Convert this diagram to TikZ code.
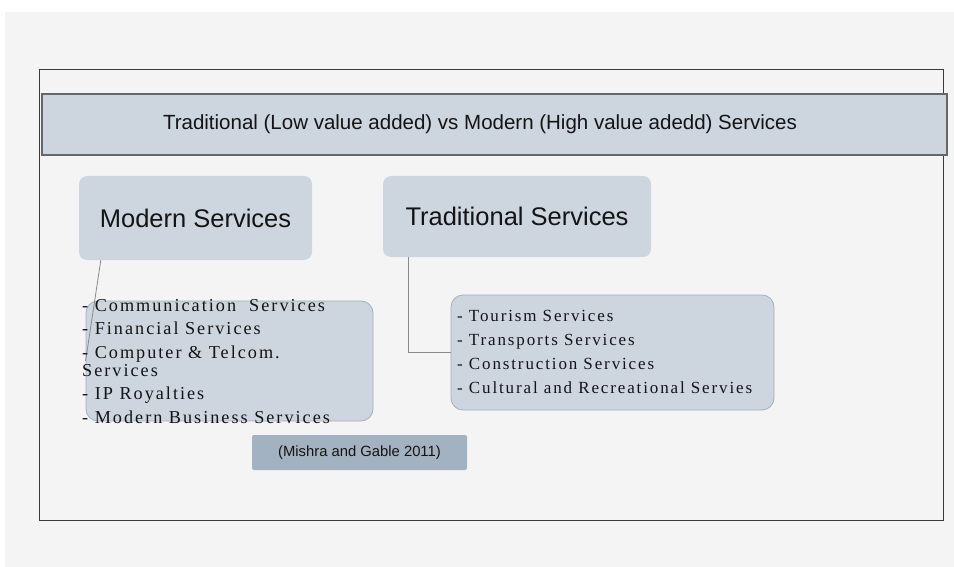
\documentclass[tikz,border=0pt]{standalone}
\usepackage{fontspec}
\setmainfont{Liberation Serif}
\setsansfont{Liberation Sans}
\newfontfamily\listfont[LetterSpace=11]{Liberation Serif}
\usetikzlibrary{positioning}
\definecolor{SlideGround}{HTML}{F4F4F4}
\definecolor{SlideFrame}{HTML}{3A3A3A}
\definecolor{BannerEdge}{HTML}{666666}
\definecolor{BoxFill}{HTML}{CDD5DE}
\definecolor{BoxEdge}{HTML}{A2B0BF}
\definecolor{NoteFill}{HTML}{A3B2C1}
\definecolor{LinkGray}{HTML}{8A8A8A}
\definecolor{SlideInk}{HTML}{141414}
\tikzset{
  every node/.style={text=SlideInk},
  banner/.style={draw=BannerEdge, line width=1.2pt, fill=BoxFill, minimum width=905pt, minimum height=61pt},
  heading/.style={fill=BoxFill, rounded corners=8pt, font=\sffamily\fontsize{25.5}{30}\selectfont},
  listbox/.style={draw=BoxEdge, fill=BoxFill, rounded corners=12pt, line width=0.8pt},
  listtext/.style={align=left, inner sep=0pt, anchor=north west},
  note/.style={fill=NoteFill, rounded corners=2pt, minimum width=215pt, minimum height=35pt, font=\sffamily\fontsize{14.8}{17}\selectfont},
  link/.style={draw=LinkGray, line width=0.8pt},
}

\begin{document}
\begin{tikzpicture}[x=1pt,y=-1pt]
  \useasboundingbox (0,0) rectangle (954,567);
  \fill[SlideGround] (5,12) rectangle (954,567);

  % Outer frame and title banner
  \draw[SlideFrame, line width=0.9pt] (39,69) rectangle (943,520);
  \node[banner] (banner) at (494.5,124.5) {};
  \node[font=\sffamily\fontsize{20.5}{24}\selectfont] (title) at (480,124)
    {Traditional (Low value added) vs Modern (High value adedd) Services};

  % Two headings
  \node[heading, minimum width=233pt, minimum height=84pt] (modhead) at (195.5,218) {Modern Services};
  \node[heading, minimum width=268pt, minimum height=81pt] (tradhead) at (517,216.5) {Traditional Services};

  % List boxes
  \node[listbox, minimum width=287pt, minimum height=120pt] (modlist) at (229.5,361) {};
  \node[listbox, minimum width=323pt, minimum height=115pt] (tradlist) at (612.5,352.5) {};

  % Connectors from heading to list
  \coordinate (modroot) at ([xshift=22pt]modhead.south west);
  \coordinate (tradroot) at ([xshift=26pt]tradhead.south west);
  \draw[link] (modroot) -- (modlist.west);
  \draw[link] (tradroot) |- (tradlist.west);

  % List entries
  \node[listtext, font=\listfont\fontsize{18.2}{23.5}\selectfont] (modtext) at (82,299)
    {- Communication\ \ Services\\
     - Financial Services\\
     - Computer \& Telcom.\\[-5.5pt]
     Services\\
     - IP Royalties\\
     - Modern Business Services};
  \node[listtext, font=\listfont\fontsize{17}{23.7}\selectfont] (tradtext) at (457,310.5)
    {- Tourism Services\\
     - Transports Services\\
     - Construction Services\\
     - Cultural and Recreational Servies};

  % Source note
  \node[note] (source) at (359.5,452.5) {(Mishra and Gable 2011)};
\end{tikzpicture}
\end{document}
